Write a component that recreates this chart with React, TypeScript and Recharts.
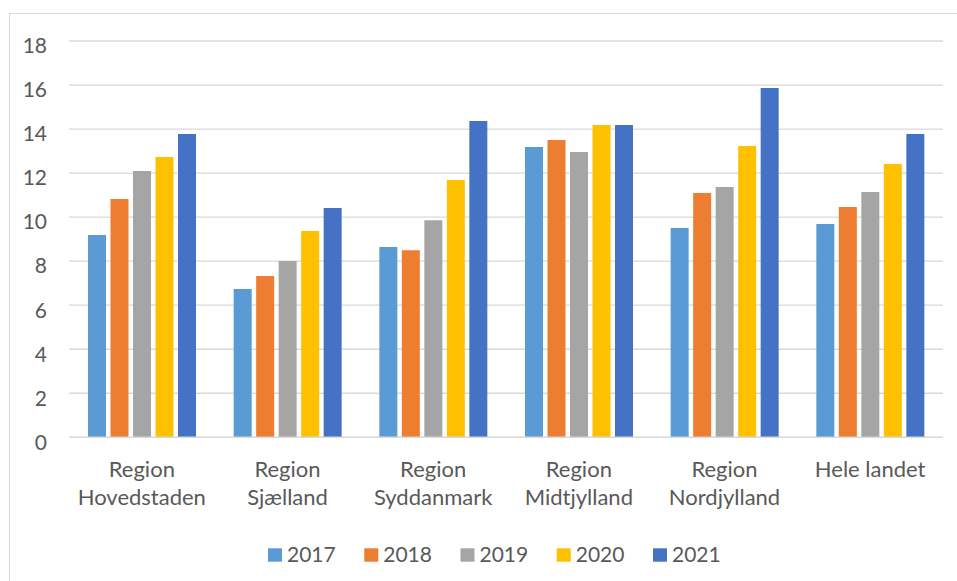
import React from "react";
import { BarChart, Bar, XAxis, YAxis, CartesianGrid } from "recharts";

const categories = [
  "Region Hovedstaden",
  "Region Sjælland",
  "Region Syddanmark",
  "Region Midtjylland",
  "Region Nordjylland",
  "Hele landet",
];
const years = ["2017", "2018", "2019", "2020", "2021"];
const colors = ["#5B9BD5", "#ED7D31", "#A5A5A5", "#FFC000", "#4472C4"];
const v2017 = [9.19, 6.74, 8.64, 13.19, 9.51, 9.69];
const v2018 = [10.82, 7.33, 8.5, 13.5, 11.1, 10.46];
const v2019 = [12.1, 8.01, 9.86, 12.96, 11.37, 11.14];
const v2020 = [12.73, 9.37, 11.69, 14.18, 13.23, 12.41];
const v2021 = [13.78, 10.41, 14.37, 14.18, 15.87, 13.78];
const yTicks = [0, 2, 4, 6, 8, 10, 12, 14, 16, 18];

const series = [v2017, v2018, v2019, v2020, v2021];
const data = categories.map((c, i) => {
  const row: any = { name: c };
  years.forEach((y, k) => {
    row[y] = series[k][i];
  });
  return row;
});

const FONT = "Lato, 'Noto Sans', sans-serif";
const TEXT = "#595959";
const GRID = "#d9d9d9";

const XTick = (props: any) => {
  const { x, y, payload } = props;
  const label: string = payload.value;
  const lines = label.startsWith("Region ")
    ? ["Region", label.slice(7)]
    : [label];
  return (
    <g>
      {lines.map((l, i) => (
        <text
          key={i}
          x={x}
          y={y + 39.4 + i * 28.5}
          textAnchor="middle"
          fill={TEXT}
          fontSize={22}
          fontFamily={FONT}
        >
          {l}
        </text>
      ))}
    </g>
  );
};

const YTick = (props: any) => {
  const { x, y, payload } = props;
  return (
    <text
      x={x}
      y={y + 12.3}
      textAnchor="end"
      fill={TEXT}
      fontSize={21}
      fontFamily={FONT}
    >
      {payload.value}
    </text>
  );
};

export default function App() {
  return (
    <div
      style={{
        position: "absolute",
        left: 0,
        top: 0,
        width: 957,
        height: 581,
        background: "#fff",
        overflow: "hidden",
      }}
    >
      <div
        style={{
          position: "absolute",
          left: 9,
          top: 13,
          width: 980,
          height: 600,
          border: `1.5px solid ${GRID}`,
          boxSizing: "border-box",
        }}
      />
      <div style={{ position: "absolute", left: 0, top: 0 }}>
        <BarChart
          width={957}
          height={581}
          data={data}
          margin={{ top: 41, right: 14, left: 9, bottom: 43.7 }}
          barSize={18}
          barGap={4.5}
        >
          <CartesianGrid vertical={false} stroke={GRID} strokeWidth={1.3} />
          <XAxis
            dataKey="name"
            height={100}
            axisLine={{ stroke: GRID, strokeWidth: 1.5 }}
            tickLine={false}
            tickSize={0}
            tickMargin={0}
            interval={0}
            tick={<XTick />}
          />
          <YAxis
            width={60}
            domain={[0, 18]}
            ticks={yTicks}
            axisLine={false}
            tickLine={false}
            tickSize={0}
            tickMargin={22}
            tick={<YTick />}
          />
          {years.map((y, k) => (
            <Bar
              key={y}
              dataKey={y}
              fill={colors[k]}
              isAnimationActive={false}
            />
          ))}
        </BarChart>
      </div>
      <svg
        width={957}
        height={581}
        style={{ position: "absolute", left: 0, top: 0, pointerEvents: "none" }}
      >
        {years.map((y, k) => {
          const x0 = 268 + k * 96.25;
          return (
            <g key={y}>
              <rect x={x0} y={548.3} width={14} height={13.4} fill={colors[k]} />
              <text
                x={x0 + 19}
                y={561.7}
                fill={TEXT}
                fontSize={21}
                fontFamily={FONT}
              >
                {y}
              </text>
            </g>
          );
        })}
      </svg>
    </div>
  );
}
